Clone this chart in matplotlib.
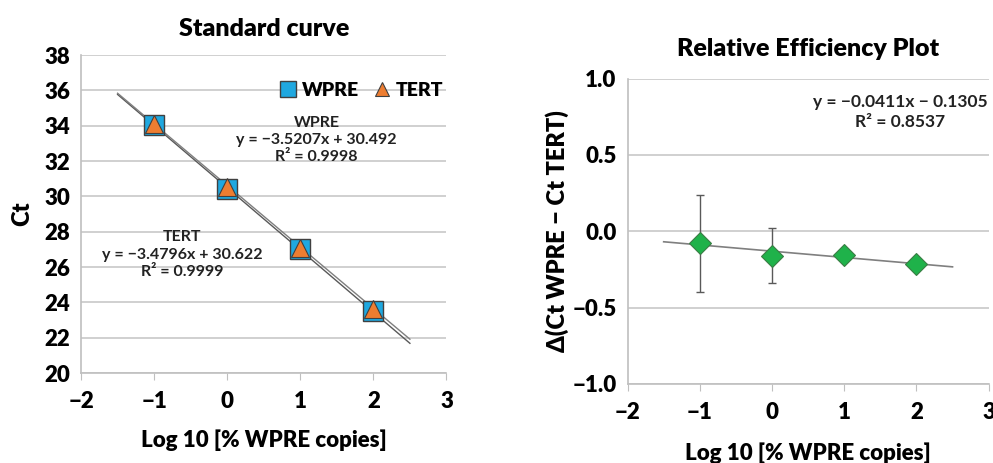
import numpy as np
import matplotlib
matplotlib.use("Agg")
from matplotlib import pyplot as plt

# data
log_copies = [-1, 0, 1, 2]
ct_wpre = [34.05, 30.45, 27.0, 23.5]
ct_tert = [34.1, 30.55, 27.1, 23.65]
wpre_fit = (-3.5207, 30.492)
tert_fit = (-3.4796, 30.622)
delta_ct = [-0.08, -0.16, -0.155, -0.215]
delta_err = [0.315, 0.18, 0.0, 0.0]
delta_fit = (-0.0411, -0.1305)
fit_range = [-1.5, 2.5]

plt.rcParams['font.family'] = ['Lato', 'DejaVu Sans']
plt.rcParams['font.weight'] = 'heavy'

fig = plt.figure(figsize=(9.93, 4.63), dpi=100)
ax1 = fig.add_axes([0.0816, 0.194, 0.368, 0.687])
ax2 = fig.add_axes([0.632, 0.171, 0.3636, 0.659])


def style(ax):
    for s in ['top', 'right']:
        ax.spines[s].set_visible(False)
    for s in ['left', 'bottom']:
        ax.spines[s].set_color('#bfbfbf')
        ax.spines[s].set_linewidth(1.2)
    ax.grid(axis='y', color='#c8c8c8', linewidth=1.2)
    ax.set_axisbelow(True)
    ax.tick_params(axis='y', length=0, pad=8, labelsize=16)
    ax.tick_params(axis='x', length=5, color='#bfbfbf', direction='out', pad=8, labelsize=16)
    ax.set_xlim(-2, 3)
    ax.set_xticks(range(-2, 4))
    ax.set_xticklabels(['\u22122', '\u22121', '0', '1', '2', '3'])


# standard curve
xs = np.array(fit_range)
ax1.plot(xs, wpre_fit[0] * xs + wpre_fit[1], color='#595959', lw=1.0, zorder=2)
ax1.plot(xs, tert_fit[0] * xs + tert_fit[1], color='#7f7f7f', lw=1.0, zorder=2)
ax1.plot(log_copies, ct_wpre, 's', ms=15, color='#1fa8e0', mec='#404040', mew=1, label='WPRE', zorder=3)
ax1.plot(log_copies, ct_tert, '^', ms=13, color='#ed7d31', mec='#404040', mew=0.8, label='TERT', zorder=4)
style(ax1)
ax1.set_ylim(20, 38)
ax1.set_yticks(range(20, 39, 2))
ax1.set_title('Standard curve', fontsize=18, fontweight='heavy', pad=14)
ax1.set_ylabel('Ct', fontsize=17, fontweight='heavy', labelpad=8)
ax1.set_xlabel('Log 10 [% WPRE copies]', fontsize=16, fontweight='heavy', labelpad=12)
ax1.legend(loc='upper right', ncol=2, frameon=False, fontsize=14, handletextpad=0.2,
           columnspacing=0.7, markerscale=0.75, handlelength=1.0, bbox_to_anchor=(1.04, 0.97))

ax1.text(1.22, 33.2, 'WPRE\ny = \u22123.5207x + 30.492\nR\u00b2 = 0.9998', ha='center', va='center',
         fontsize=11.5, fontweight='bold', linespacing=1.3, color='#222222')
ax1.text(-0.62, 26.7, 'TERT\ny = \u22123.4796x + 30.622\nR\u00b2 = 0.9999', ha='center', va='center',
         fontsize=11.5, fontweight='bold', linespacing=1.3, color='#222222')

# relative efficiency
ax2.plot(xs, delta_fit[0] * xs + delta_fit[1], color='#7f7f7f', lw=1.2, zorder=2)
ax2.errorbar(log_copies, delta_ct, yerr=delta_err, fmt='none', ecolor='#595959', elinewidth=1,
             capsize=3, zorder=3)
ax2.plot(log_copies, delta_ct, 'D', ms=11, color='#1fb24a', mec='#3a7d44', mew=0.8, zorder=4)
style(ax2)
ax2.set_ylim(-1.0, 1.0)
ax2.set_yticks([-1.0, -0.5, 0.0, 0.5, 1.0])
ax2.set_yticklabels(['\u22121.0', '\u22120.5', '0.0', '0.5', '1.0'])
ax2.set_title('Relative Efficiency Plot', fontsize=18, fontweight='heavy', pad=16)
ax2.set_ylabel('\u0394(Ct WPRE \u2212 Ct TERT)', fontsize=17, fontweight='heavy', labelpad=2)
ax2.set_xlabel('Log 10 [% WPRE copies]', fontsize=16, fontweight='heavy', labelpad=14)
ax2.text(1.78, 0.78, 'y = \u22120.0411x \u2212 0.1305\nR\u00b2 = 0.8537', ha='center', va='center',
         fontsize=12.5, fontweight='bold', linespacing=1.3, color='#222222')

fig.savefig('out.png', dpi=100)
